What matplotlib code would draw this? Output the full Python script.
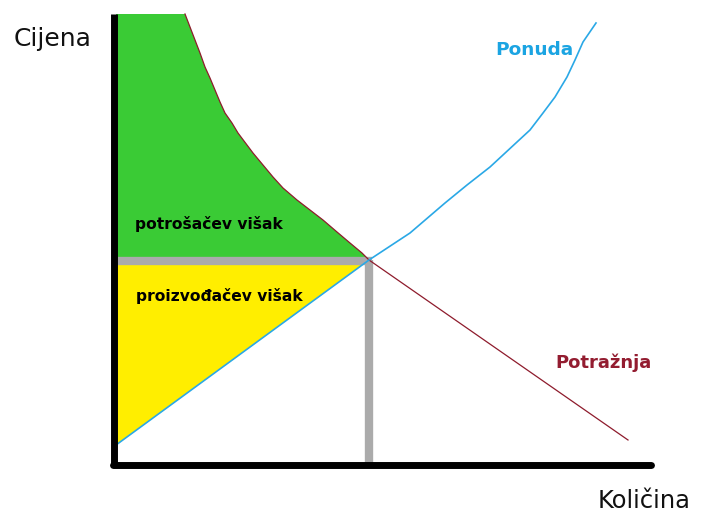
import matplotlib.pyplot as plt
import numpy as np

# quantity / price (arbitrary units)
demand_q = [69, 74, 79, 84, 89, 94, 99, 104, 109, 116, 122, 131, 137, 147, 157,
            167, 181, 194, 207, 221, 234, 246, 253, 512]
demand_p = [451, 438, 425, 412, 398, 387, 375, 363, 352, 342, 332, 320, 312, 300, 288,
            277, 265, 255, 245, 233, 222, 212, 205, 25]
supply_q = [0, 253, 294, 329, 351, 374, 401, 414, 427, 439, 451, 459, 467, 480]
supply_p = [20, 205, 232, 262, 280, 298, 323, 335, 352, 368, 388, 405, 423, 442]
q_eq = 253
p_eq = 205
p_top = 451

fig = plt.figure(figsize=(7.02, 5.14), dpi=100)
ax = fig.add_axes([0, 0, 1, 1])
ax.set_xlim(-116, 586)
ax.set_ylim(-49, 465)
ax.axis("off")

dq = np.array(demand_q)
dp = np.array(demand_p)
upper = dp >= p_eq

# consumer surplus (green)
gx = [0] + list(dq[upper]) + [0]
gy = [p_top] + list(dp[upper]) + [p_eq]
ax.fill(gx, gy, color="#3acb35", lw=0, zorder=1)

# producer surplus (yellow)
ax.fill([0, q_eq, supply_q[0]], [p_eq, p_eq, supply_p[0]], color="#ffee00", lw=0, zorder=1)

# equilibrium guides
ax.plot([0, q_eq + 3], [p_eq - 1, p_eq - 1], color="#ababab", lw=6, solid_capstyle="butt", zorder=2)
ax.plot([q_eq, q_eq], [p_eq, 0], color="#ababab", lw=6, solid_capstyle="butt", zorder=2)

ax.plot(dq, dp, color="#8e1b2c", lw=0.9, zorder=3)
ax.plot(supply_q, supply_p, color="#2aa8e6", lw=1.2, zorder=3)

# axes
ax.plot([-2, -2], [p_top, -2], color="black", lw=5, solid_capstyle="butt", zorder=4)
ax.plot([-3, 535], [0, 0], color="black", lw=5, solid_capstyle="round", zorder=4)

ax.text(-102, 426, "Cijena", fontsize=18, ha="left", va="center", color="#111111")
ax.text(482, -36, "Količina", fontsize=17.5, ha="left", va="center", color="#111111")
ax.text(379, 415, "Ponuda", fontsize=13.3, fontweight="bold", ha="left", va="center", color="#1ba4e2")
ax.text(439, 102, "Potražnja", fontsize=13, fontweight="bold", ha="left", va="center", color="#931c30")
ax.text(19, 241, "potrošačev višak", fontsize=11.2, fontweight="bold", ha="left", va="center", color="black")
ax.text(20, 169, "proizvođačev višak", fontsize=11.2, fontweight="bold", ha="left", va="center", color="black")

fig.savefig("out.png", dpi=100)
